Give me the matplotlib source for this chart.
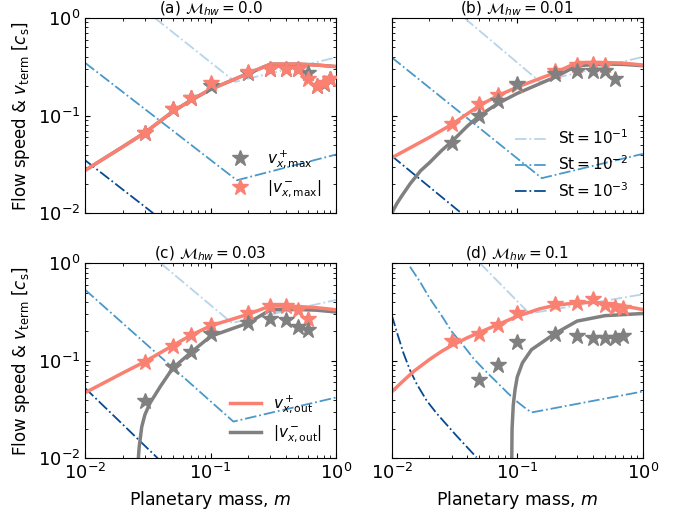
import numpy as np
import matplotlib
matplotlib.use('Agg')
import matplotlib.pyplot as plt

# panel titles
titles = [r'(a) $\mathcal{M}_{hw} = 0.0$', r'(b) $\mathcal{M}_{hw} = 0.01$',
          r'(c) $\mathcal{M}_{hw} = 0.03$', r'(d) $\mathcal{M}_{hw} = 0.1$']

# v_x,out^+ curves (red)
red_x = [[0.01, 0.02, 0.03, 0.05, 0.07, 0.1, 0.2, 0.3, 0.5, 0.7, 1.0],
         [0.01, 0.02, 0.03, 0.05, 0.07, 0.1, 0.2, 0.3, 0.5, 0.7, 1.0],
         [0.01, 0.02, 0.03, 0.05, 0.07, 0.1, 0.2, 0.3, 0.5, 0.7, 1.0],
         [0.01, 0.0125, 0.015, 0.02, 0.025, 0.03, 0.04, 0.05, 0.07, 0.1, 0.15, 0.2, 0.3, 0.4, 0.6, 1.0]]
red_y = [[0.0275, 0.048, 0.067, 0.11, 0.144, 0.186, 0.271, 0.337, 0.337, 0.33, 0.318],
         [0.037, 0.06, 0.081, 0.127, 0.16, 0.196, 0.275, 0.35, 0.35, 0.345, 0.33],
         [0.047, 0.075, 0.098, 0.143, 0.183, 0.228, 0.3, 0.365, 0.36, 0.35, 0.333],
         [0.048, 0.063, 0.078, 0.103, 0.125, 0.143, 0.172, 0.195, 0.235, 0.285, 0.34, 0.37, 0.393, 0.397, 0.38, 0.335]]

# |v_x,out^-| curves (grey); panel (a) lies under the red one
grey_x = [[0.01, 0.02, 0.03, 0.05, 0.07, 0.1, 0.2, 0.3, 0.5, 0.7, 1.0],
          [0.01, 0.011, 0.012, 0.014, 0.017, 0.02, 0.025, 0.03, 0.04, 0.05, 0.07, 0.1, 0.2, 0.3, 0.5, 0.7, 1.0],
          [0.0266, 0.027, 0.0283, 0.03, 0.033, 0.04, 0.05, 0.07, 0.1, 0.2, 0.3, 0.5, 0.7, 1.0],
          [0.0905, 0.091, 0.093, 0.096, 0.1, 0.11, 0.13, 0.2, 0.3, 0.5, 1.0]]
grey_y = [[0.0275, 0.048, 0.067, 0.11, 0.144, 0.186, 0.271, 0.337, 0.337, 0.33, 0.318],
          [0.01, 0.0126, 0.015, 0.02, 0.0273, 0.033, 0.044, 0.054, 0.078, 0.1, 0.133, 0.169, 0.248, 0.325, 0.338, 0.335, 0.325],
          [0.01, 0.013, 0.021, 0.028, 0.037, 0.055, 0.084, 0.122, 0.178, 0.244, 0.333, 0.335, 0.33, 0.316],
          [0.01, 0.02, 0.035, 0.05, 0.068, 0.095, 0.13, 0.19, 0.255, 0.29, 0.305]]

# simulation stars: v_x,max^+ (grey) and |v_x,max^-| (red)
sgrey_x = [[0.03, 0.05, 0.07, 0.1, 0.2, 0.3, 0.4, 0.5, 0.6, 0.7, 0.8, 0.9],
           [0.03, 0.05, 0.07, 0.1, 0.2, 0.3, 0.4, 0.5, 0.6],
           [0.03, 0.05, 0.07, 0.1, 0.2, 0.3, 0.4, 0.5, 0.6],
           [0.05, 0.07, 0.1, 0.2, 0.3, 0.4, 0.5, 0.6, 0.7]]
sgrey_y = [[0.067, 0.116, 0.15, 0.20, 0.275, 0.30, 0.30, 0.30, 0.271, 0.2, 0.21, 0.24],
           [0.053, 0.1, 0.14, 0.212, 0.265, 0.285, 0.287, 0.285, 0.237],
           [0.039, 0.086, 0.123, 0.189, 0.244, 0.268, 0.26, 0.222, 0.205],
           [0.064, 0.091, 0.154, 0.189, 0.18, 0.171, 0.171, 0.171, 0.178]]
sred_x = [[0.03, 0.05, 0.07, 0.1, 0.2, 0.3, 0.4, 0.5, 0.6, 0.7, 0.8, 0.9],
          [0.03, 0.05, 0.07, 0.1, 0.2, 0.3, 0.4, 0.5],
          [0.03, 0.05, 0.07, 0.1, 0.2, 0.3, 0.4, 0.5, 0.6],
          [0.03, 0.05, 0.07, 0.1, 0.2, 0.3, 0.4, 0.5, 0.6, 0.7]]
sred_y = [[0.067, 0.116, 0.15, 0.214, 0.277, 0.298, 0.298, 0.30, 0.235, 0.20, 0.214, 0.24],
          [0.082, 0.131, 0.163, 0.205, 0.29, 0.332, 0.34, 0.33],
          [0.098, 0.143, 0.185, 0.234, 0.31, 0.36, 0.36, 0.328, 0.268],
          [0.16, 0.189, 0.23, 0.307, 0.384, 0.39, 0.427, 0.373, 0.354, 0.346]]
red_on_top = [True, False, False, False]

# terminal velocities, St = 1e-1, 1e-2, 1e-3
st1_x = [[0.036, 0.157, 1.0], [0.038, 0.152, 1.0], [0.04, 0.148, 1.0], [0.0505, 0.125, 1.0]]
st1_y = [[1.0, 0.222, 0.395], [1.0, 0.222, 0.40], [1.0, 0.244, 0.42], [1.0, 0.305, 0.48]]
st2_x = [[0.01, 0.162, 1.0], [0.01, 0.157, 1.0], [0.01, 0.152, 1.0],
         [0.014, 0.017, 0.02, 0.025, 0.03, 0.037, 0.045, 0.055, 0.07, 0.085, 0.1, 0.115, 0.13, 1.0]]
st2_y = [[0.348, 0.0218, 0.040], [0.395, 0.0229, 0.0406], [0.535, 0.0238, 0.042],
         [0.92, 0.63, 0.44, 0.29, 0.2, 0.145, 0.105, 0.08, 0.059, 0.046, 0.038, 0.033, 0.0295, 0.0484]]
st3_x = [[0.01, 0.035], [0.01, 0.036], [0.01, 0.038],
         [0.01, 0.011, 0.0124, 0.014, 0.0158, 0.019, 0.0228, 0.033, 0.0475]]
st3_y = [[0.035, 0.01], [0.0387, 0.01], [0.0525, 0.01],
         [0.295, 0.196, 0.12, 0.08, 0.058, 0.039, 0.0289, 0.0169, 0.0102]]

c_red = 'salmon'
c_grey = 'grey'
c_st = [plt.cm.Blues(0.3), plt.cm.Blues(0.6), plt.cm.Blues(0.9)]

fig = plt.figure(figsize=(6.83, 5.12), dpi=100)
pos = [[0.1245, 0.5834, 0.3675, 0.3814], [0.5735, 0.5834, 0.3675, 0.3814],
       [0.1245, 0.1049, 0.3675, 0.381], [0.5735, 0.1049, 0.3675, 0.381]]

for i in range(4):
    ax = fig.add_axes(pos[i])
    l1, = ax.plot(st1_x[i], st1_y[i], '-.', color=c_st[0], lw=1.3, label=r'St$=10^{-1}$')
    l2, = ax.plot(st2_x[i], st2_y[i], '-.', color=c_st[1], lw=1.3, label=r'St$=10^{-2}$')
    l3, = ax.plot(st3_x[i], st3_y[i], '-.', color=c_st[2], lw=1.3, label=r'St$=10^{-3}$')
    lg, = ax.plot(grey_x[i], grey_y[i], '-', color=c_grey, lw=2.5, label=r'$|v^-_{x,\rm out}|$')
    lr, = ax.plot(red_x[i], red_y[i], '-', color=c_red, lw=2.5, label=r'$v^+_{x,\rm out}$')
    zr = 6 if red_on_top[i] else 4
    sg, = ax.plot(sgrey_x[i], sgrey_y[i], '*', color=c_grey, ms=12, ls='none', zorder=5,
                  label=r'$v^+_{x,\rm max}$')
    sr, = ax.plot(sred_x[i], sred_y[i], '*', color=c_red, ms=12, ls='none', zorder=zr,
                  label=r'$|v^-_{x,\rm max}|$')
    ax.set_xscale('log')
    ax.set_yscale('log')
    ax.set_xlim(0.01, 1)
    ax.set_ylim(0.01, 1)
    ax.tick_params(which='both', direction='in', top=True, right=True, labelsize=13)
    ax.set_title(titles[i], fontsize=11, pad=2)
    if i < 2:
        ax.set_xticklabels([])
    else:
        ax.set_xlabel(r'Planetary mass, $m$', fontsize=12.5)
    if i % 2 == 1:
        ax.set_yticklabels([])
    else:
        ax.set_ylabel(r'Flow speed & $v_{\rm term}$ [$c_{\rm s}$]', fontsize=12)
    if i == 0:
        ax.legend(handles=[sg, sr], loc='lower right', frameon=False, fontsize=11)
    if i == 1:
        ax.legend(handles=[l1, l2, l3], loc='lower right', frameon=False, fontsize=11)
    if i == 2:
        ax.legend(handles=[lr, lg], loc='lower right', frameon=False, fontsize=11)

plt.savefig('out.png', dpi=100)
